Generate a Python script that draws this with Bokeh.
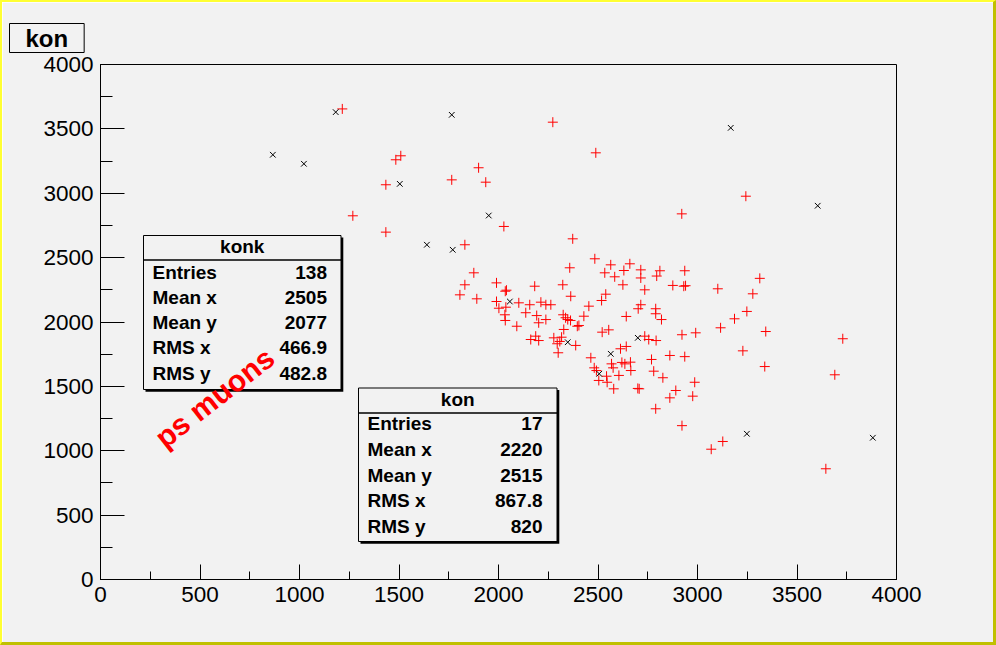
from bokeh.plotting import figure
from bokeh.models import Range1d, SingleIntervalTicker, BoxAnnotation, Label
from bokeh.embed import file_html
from bokeh.resources import INLINE

# ---------------- data ----------------
konk_x = [1215, 2273, 1484, 1509, 1900, 1434, 1765, 1936, 1268, 2027,
          1434, 1831, 2373, 2489, 3243, 2921, 2484, 2358, 2564, 2660,
          2534, 2630, 2715, 2584, 2715, 2811, 2795, 2936, 3313, 1876,
          1831, 1990, 2323, 2625, 2876, 2931, 1806, 1891, 2034, 2182,
          2363, 2539, 2518, 2735, 1990, 2002, 2037, 2102, 2157, 2213,
          2238, 2263, 2454, 2702, 2715, 2790, 2790, 2819, 2032, 2137,
          2192, 2034, 2238, 2202, 2325, 2337, 2348, 2362, 2429, 2642,
          2396, 2092, 2328, 2521, 2554, 2162, 2187, 2202, 2278, 2317,
          2295, 2308, 2388, 2300, 2735, 2755, 2792, 2922, 2613, 2642,
          2464, 2861, 2936, 2769, 2568, 2635, 2663, 2576, 2665, 2780,
          2481, 2492, 2543, 2605, 2504, 2546, 2826, 2891, 2579, 2707,
          2861, 3102, 3278, 3248, 3186, 3116, 2991, 3343, 3730, 3228,
          3338, 3690, 2986, 2976, 2922, 3127, 3069, 3645, 2790, 2040,
          2940, 2404, 2620, 2700]
konk_y = [3655, 3552, 3260, 3291, 3198, 3066, 3104, 3086, 2825, 2742,
          2698, 2600, 2646, 3314, 2977, 2840, 2491, 2421, 2444, 2452,
          2382, 2400, 2405, 2351, 2342, 2398, 2357, 2398, 2339, 2382,
          2289, 2304, 2289, 2289, 2284, 2278, 2211, 2180, 2239, 2278,
          2200, 2216, 2167, 2250, 2159, 2107, 2115, 2149, 2134, 2154,
          2134, 2134, 2123, 2103, 2134, 2103, 2064, 2019, 2056, 2072,
          2050, 2012, 2019, 1994, 2056, 2033, 2019, 2012, 2045, 2043,
          1967, 1967, 1942, 1921, 1939, 1864, 1890, 1856, 1877, 1882,
          1831, 1849, 1818, 1761, 1890, 1864, 1856, 1901, 1792, 1810,
          1722, 1740, 1731, 1709, 1675, 1675, 1688, 1644, 1623, 1618,
          1644, 1623, 1579, 1585, 1546, 1532, 1567, 1468, 1481, 1481,
          1411, 2258, 2219, 2082, 2025, 1955, 1916, 1926, 1870, 1776,
          1654, 1590, 1532, 1424, 1195, 1072, 1012, 860, 1326, 2247,
          2282, 1973, 1686, 1484]

kon_x = [1182, 1765, 866, 1022, 1504, 1951, 1640, 1770, 3167, 3604,
         2057, 2348, 2700, 2564, 2506, 3248, 3881]
kon_y = [3630, 3609, 3299, 3229, 3073, 2827, 2600, 2561, 3508, 2903,
         2159, 1843, 1877, 1753, 1598, 1132, 1101]

stat_names = ["Entries", "Mean x", "Mean y", "RMS x", "RMS y"]
konk_stats = ["138", "2505", "2077", "466.9", "482.8"]
kon_stats = ["17", "2220", "2515", "867.8", "820"]

assert len(konk_x) == len(konk_y)

# ---------------- layout ----------------
BL, BT, BR, BB = 2, 2, 3, 3          # css border of the canvas
W, H = 996, 645                      # host size (border drawn inside)
FL, FT = 100 - BL, 64 - BT           # frame left / top (canvas coords)
FW, FH = 796, 515                    # frame size
FR, FB = W - FL - FW, H - FT - FH
BG = "#f2f2f2"
FONT = "Liberation Sans"


def sx(x):
    # reference page x -> frame screen x
    return (x - BL) - FL


def sy(y):
    # reference page y -> frame screen y (from frame bottom, upward)
    return (FT + FH) - (y - BT)


p = figure(width=W, height=H, x_range=Range1d(0, 4000), y_range=Range1d(0, 4000),
           output_backend="svg", toolbar_location=None,
           min_border_left=FL, min_border_right=FR, min_border_top=FT, min_border_bottom=FB)
p.styles = {"border-left": "%dpx solid #ffff33" % BL,
            "border-top": "%dpx solid #ffff33" % BT,
            "border-right": "%dpx solid #c0c000" % BR,
            "border-bottom": "%dpx solid #c0c000" % BB}
p.background_fill_color = BG
p.border_fill_color = BG
p.outline_line_color = "black"
p.outline_line_width = 1
p.grid.visible = False

# title box "kon"
p.title.text = "kon"
p.title.align = "left"
p.title.vertical_align = "top"
p.title.standoff = 20
p.title.offset = -(FL + 5) + 12
p.title.text_font = FONT
p.title.text_font_size = "24px"
p.title.text_font_style = "bold"
p.title.text_color = "black"
p.title.background_fill_color = BG
p.title.border_line_color = "black"
p.title.border_line_width = 1
p.title.padding = (16, 1)

for ax, tin, tmin in ((p.xaxis[0], 15, 8), (p.yaxis[0], 24, 12)):
    ax.ticker = SingleIntervalTicker(interval=500, num_minor_ticks=2)
    ax.major_tick_in = tin
    ax.major_tick_out = 0
    ax.minor_tick_in = tmin
    ax.minor_tick_out = 0
    ax.axis_line_color = "black"
    ax.major_tick_line_color = "black"
    ax.minor_tick_line_color = "black"
    ax.major_label_text_font = FONT
    ax.major_label_text_font_size = "22.5px"
    ax.major_label_text_color = "black"
p.xaxis.major_label_standoff = 7
p.yaxis.major_label_standoff = 7

p.scatter(konk_x, konk_y, marker="cross", size=10, line_color="red", line_width=1)
p.scatter(kon_x, kon_y, marker="x", size=8, line_color="black", line_width=1)


def box(x0, y0, x1, y1, color, line=None):
    b = BoxAnnotation(left=sx(x0), right=sx(x1), top=sy(y0), bottom=sy(y1),
                      left_units="screen", right_units="screen",
                      top_units="screen", bottom_units="screen",
                      fill_color=color, fill_alpha=1.0,
                      line_color=line if line else None, line_width=1,
                      line_alpha=1.0 if line else 0.0)
    p.add_layout(b)


def text(x, y, s, size="19px", align="left", style="bold", color="black", angle=0.0):
    p.add_layout(Label(x=sx(x), y=sy(y), x_units="screen", y_units="screen", text=s,
                       text_font=FONT, text_font_size=size, text_font_style=style,
                       text_color=color, text_align=align, text_baseline="middle",
                       angle=angle, angle_units="deg"))


def stats(x0, y0, x1, y1, yh, title, vals, ty, rows_y, xl, xr):
    box(x0 + 2, y0 + 2, x1 + 2.3, y1 + 2.3, "black")
    box(x0, y0, x1, y1, BG, "black")
    box(x0, yh, x1, yh + 0.01, "black", "black")
    text((x0 + x1) / 2, ty, title, align="center")
    for n, v, yy in zip(stat_names, vals, rows_y):
        text(xl, yy, n)
        text(xr, yy, v, align="right")


stats(143, 235, 340.5, 389, 259.5, "konk", konk_stats, 246,
      [271.5, 297, 322, 347, 373], 152, 326.5)
stats(358, 387.5, 556.5, 541, 412.5, "kon", kon_stats, 398.5,
      [423, 449, 475, 500, 526], 367, 542)

text(214, 397, "ps muons", size="30px", color="red", angle=38.0, align="center")

open("out.html", "w").write(file_html(p, INLINE))
